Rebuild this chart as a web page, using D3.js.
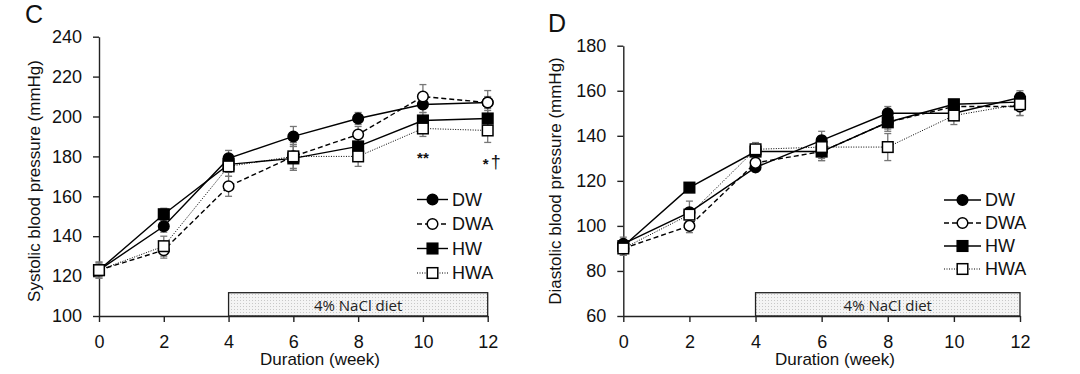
<!DOCTYPE html>
<html>
<head>
<meta charset="utf-8">
<script src="https://cdn.jsdelivr.net/npm/d3@7"></script>
<style>
  body { margin: 0; background: #fff; }
  svg { display: block; font-family: "Liberation Sans", Arial, sans-serif; }
</style>
</head>
<body>
<svg id="chart" width="1080" height="374"></svg>
<script>
// weeks on the x axis
const weeks = [0, 2, 4, 6, 8, 10, 12];
const seriesNames = ["DW", "DWA", "HW", "HWA"];

// systolic blood pressure (panel C)
const sysDW  = [123, 145, 179, 190, 199, 206, 207];
const sysDWA = [123, 133, 165, 180, 191, 210, 207];
const sysHW  = [123, 151, 176, 179, 185, 198, 199];
const sysHWA = [123, 135, 175, 180, 180, 194, 193];
const sysErrDW  = [3, 3, 4, 5, 3, 4, 3];
const sysErrDWA = [4, 4, 5, 6, 4, 6, 6];
const sysErrHW  = [3, 3, 4, 6, 4, 4, 4];
const sysErrHWA = [4, 5, 5, 7, 5, 4, 6];

// diastolic blood pressure (panel D)
const diaDW  = [92, 106, 126, 138, 150, 150, 157];
const diaDWA = [90, 100, 128, 133, 146, 153, 153];
const diaHW  = [91, 117, 133, 133, 146, 154, 155];
const diaHWA = [90, 105, 134, 135, 135, 149, 154];
const diaErrDW  = [3, 2, 2, 4, 3, 2, 3];
const diaErrDWA = [3, 3, 3, 4, 3, 3, 4];
const diaErrHW  = [3, 2, 3, 4, 4, 2, 3];
const diaErrHWA = [3, 6, 3, 5, 6, 4, 5];

const sysTicks = [100, 120, 140, 160, 180, 200, 220, 240];
const diaTicks = [60, 80, 100, 120, 140, 160, 180];
const dietStart = 4, dietEnd = 12;

const svg = d3.select("#chart");

// dotted fill for the diet bar
const defs = svg.append("defs");
const pat = defs.append("pattern")
  .attr("id", "dots")
  .attr("patternUnits", "userSpaceOnUse")
  .attr("width", 3).attr("height", 3);
pat.append("rect").attr("width", 3).attr("height", 3).attr("fill", "#f4f4f4");
pat.append("rect").attr("width", 1).attr("height", 1).attr("fill", "#c8c8c8");

const styles = {
  DW:  { dash: null,  shape: "circle", fill: "#000", width: 1.4 },
  DWA: { dash: "5,3", shape: "circle", fill: "#fff", width: 1.4 },
  HW:  { dash: null,  shape: "square", fill: "#000", width: 1.4 },
  HWA: { dash: "1,1.5", shape: "square", fill: "#fff", width: 1 }
};

function marker(g, name, cx, cy) {
  const s = styles[name];
  if (s.shape === "circle") {
    g.append("circle").attr("cx", cx).attr("cy", cy).attr("r", 5.3)
      .attr("fill", s.fill).attr("stroke", "#000").attr("stroke-width", 1.5);
  } else {
    g.append("rect").attr("x", cx - 5.3).attr("y", cy - 5.3)
      .attr("width", 10.6).attr("height", 10.6)
      .attr("fill", s.fill).attr("stroke", "#000").attr("stroke-width", 1.5);
  }
}

function drawPanel(cfg) {
  const x = d3.scaleLinear().domain([0, 12]).range([cfg.x0, cfg.x1]);
  const y = d3.scaleLinear().domain(cfg.domain).range([cfg.y0, cfg.y1]);
  const g = svg.append("g");

  // diet bar
  g.append("rect")
    .attr("x", x(dietStart)).attr("y", cfg.y0 - 23.3)
    .attr("width", x(dietEnd) - x(dietStart)).attr("height", 23.3)
    .attr("fill", "url(#dots)").attr("stroke", "#222").attr("stroke-width", 1.3);
  g.append("text")
    .attr("x", (x(dietStart) + x(dietEnd)) / 2).attr("y", cfg.y0 - 11.5)
    .attr("text-anchor", "middle").attr("dominant-baseline", "central")
    .style("font-family", "'Open Sans', sans-serif").style("font-size", "15px")
    .attr("fill", "#222").text("4% NaCl diet");

  // axes
  const yAxis = g.append("g").attr("transform", `translate(${cfg.x0},0)`)
    .call(d3.axisLeft(y).tickValues(cfg.ticks).tickSize(6).tickPadding(11).tickSizeOuter(0));
  const xAxis = g.append("g").attr("transform", `translate(0,${cfg.y0})`)
    .call(d3.axisBottom(x).tickValues(weeks).tickSize(6).tickPadding(13).tickSizeOuter(0));
  [yAxis, xAxis].forEach(a => {
    a.attr("font-size", null).attr("font-family", null);
    a.select(".domain").attr("stroke", "#222").attr("stroke-width", 1.4);
    a.selectAll(".tick line").attr("stroke", "#222").attr("stroke-width", 1.4);
    a.selectAll(".tick text").style("font-size", "18px")
      .style("font-family", "'Liberation Sans', Arial, sans-serif").attr("fill", "#111");
  });

  // titles
  g.append("text")
    .attr("transform", `translate(${cfg.titleX},${cfg.titleY}) rotate(-90)`)
    .attr("text-anchor", "middle").attr("dominant-baseline", "central")
    .style("font-size", "17px").attr("fill", "#111").text(cfg.yTitle);
  g.append("text")
    .attr("x", cfg.xTitleX).attr("y", 365)
    .attr("text-anchor", "middle").style("font-size", "17px")
    .attr("fill", "#111").text("Duration (week)");
  g.append("text")
    .attr("x", cfg.labelX).attr("y", cfg.labelY)
    .style("font-size", "25px").attr("fill", "#111").text(cfg.label);

  // error bars
  seriesNames.forEach((name, si) => {
    const vals = cfg.values[si], errs = cfg.errors[si];
    weeks.forEach((w, i) => {
      const cx = x(w), top = y(vals[i] + errs[i]), bot = y(vals[i] - errs[i]);
      g.append("line").attr("x1", cx).attr("x2", cx).attr("y1", top).attr("y2", bot)
        .attr("stroke", "#777").attr("stroke-width", 1.3);
      [top, bot].forEach(yy => g.append("line")
        .attr("x1", cx - 3.5).attr("x2", cx + 3.5).attr("y1", yy).attr("y2", yy)
        .attr("stroke", "#777").attr("stroke-width", 1.3));
    });
  });

  // lines
  const line = d3.line().x(d => x(d[0])).y(d => y(d[1]));
  seriesNames.forEach((name, si) => {
    const s = styles[name];
    g.append("path")
      .datum(weeks.map((w, i) => [w, cfg.values[si][i]]))
      .attr("d", line).attr("fill", "none")
      .attr("stroke", "#000").attr("stroke-width", s.width)
      .attr("stroke-dasharray", s.dash);
  });

  // markers
  seriesNames.forEach((name, si) => {
    weeks.forEach((w, i) => marker(g, name, x(w), y(cfg.values[si][i])));
  });

  // legend
  seriesNames.forEach((name, si) => {
    const s = styles[name];
    const ly = cfg.legY + si * cfg.legStep;
    g.append("line").attr("x1", cfg.legX0).attr("x2", cfg.legX1)
      .attr("y1", ly).attr("y2", ly)
      .attr("stroke", "#000").attr("stroke-width", s.width)
      .attr("stroke-dasharray", s.dash);
    marker(g, name, (cfg.legX0 + cfg.legX1) / 2, ly);
    g.append("text").attr("x", cfg.legX1 + 4).attr("y", ly)
      .attr("dominant-baseline", "central").style("font-size", "18px")
      .attr("fill", "#111").text(name);
  });

  // significance marks
  (cfg.marks || []).forEach(m => {
    g.append("text").attr("x", x(m.week) + (m.dx || 0)).attr("y", m.y)
      .attr("text-anchor", "middle").style("font-size", m.size)
      .style("font-weight", m.bold ? "bold" : "normal")
      .attr("fill", "#111").text(m.text);
  });
}

drawPanel({
  label: "C", labelX: 25, labelY: 23,
  x0: 99, x1: 487.7, y0: 316, y1: 36.7,
  domain: [100, 240], ticks: sysTicks,
  yTitle: "Systolic blood pressure (mmHg)", titleX: 34, titleY: 181,
  xTitleX: 320,
  values: [sysDW, sysDWA, sysHW, sysHWA],
  errors: [sysErrDW, sysErrDWA, sysErrHW, sysErrHWA],
  legX0: 417, legX1: 448, legY: 199.5, legStep: 24.5,
  marks: [
    { week: 10, text: "**", y: 163, size: "15px", bold: true },
    { week: 12, dx: -2, text: "*", y: 169, size: "15px", bold: true },
    { week: 12, dx: 8, text: "\u2020", y: 168, size: "18px", bold: false }
  ]
});

drawPanel({
  label: "D", labelX: 548, labelY: 32,
  x0: 623.3, x1: 1020, y0: 316, y1: 45.7,
  domain: [60, 180], ticks: diaTicks,
  yTitle: "Diastolic blood pressure (mmHg)", titleX: 555, titleY: 181,
  xTitleX: 835,
  values: [diaDW, diaDWA, diaHW, diaHWA],
  errors: [diaErrDW, diaErrDWA, diaErrHW, diaErrHWA],
  legX0: 944, legX1: 981, legY: 200, legStep: 23
});
</script>
</body>
</html>
